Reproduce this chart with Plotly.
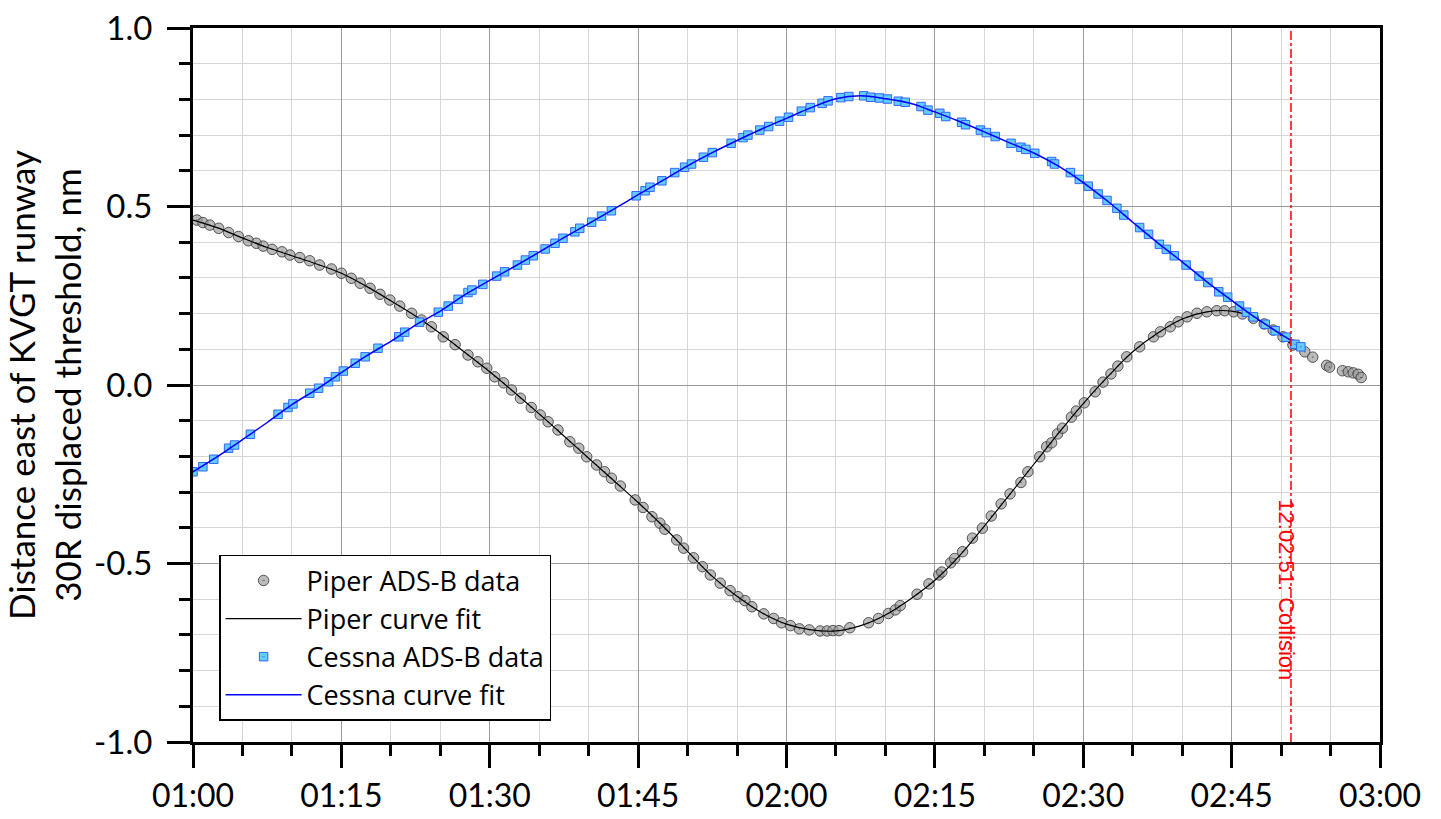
import plotly.graph_objects as go

# ---------------- data (seconds after 12:00, i.e. 60 = 01:00) ----------------
piper_t = [60.4, 61.0, 61.7, 62.6, 63.6, 64.6, 65.6, 66.4, 67.1, 68.0, 69.0, 69.8, 70.8, 71.8,
           72.8, 74.0, 75.0, 76.0, 76.9, 77.9, 78.9, 79.9, 80.9, 82.1, 83.1, 84.1, 85.3, 86.5,
           87.8, 88.8, 89.7, 90.5, 91.4, 92.2, 93.1, 94.2, 95.1, 95.9, 96.9, 98.1, 99.0, 99.8,
           100.8, 101.6, 102.3, 103.2, 104.7, 105.5, 106.4, 107.2, 107.7, 108.9, 109.6, 110.6,
           111.5, 112.3, 113.3, 114.3, 115.1, 115.8, 116.5, 117.7, 118.7, 119.5, 120.4, 121.3,
           122.3, 123.4, 124.1, 124.7, 125.3, 126.4, 128.3, 129.3, 130.3, 131.0, 131.5, 133.2,
           134.4, 135.4, 135.7, 136.6, 137.0, 137.8, 138.8, 139.8, 140.7, 141.7, 142.6, 143.7,
           144.4, 145.6, 146.3, 146.8, 147.4, 147.9, 148.8, 149.3, 150.1, 151.2, 152.0, 152.8,
           153.5, 154.4, 155.7, 157.1, 157.8, 158.8, 159.6, 160.5, 161.5, 162.5, 163.5, 164.3,
           165.2, 166.1, 167.2, 168.3, 169.2, 170.2, 171.2, 172.4, 173.2, 174.6, 174.9, 176.2,
           176.8, 177.3, 177.8, 178.1]
piper_y = [0.462, 0.455, 0.448, 0.439, 0.427, 0.416, 0.404, 0.397, 0.389, 0.380, 0.373, 0.364,
           0.357, 0.348, 0.336, 0.325, 0.313, 0.299, 0.285, 0.271, 0.254, 0.238, 0.221, 0.201,
           0.182, 0.163, 0.135, 0.113, 0.084, 0.065, 0.047, 0.023, 0.006, -0.014, -0.037, -0.063,
           -0.084, -0.103, -0.126, -0.159, -0.177, -0.201, -0.224, -0.243, -0.261, -0.283, -0.322,
           -0.343, -0.369, -0.387, -0.404, -0.434, -0.457, -0.484, -0.509, -0.532, -0.555, -0.576,
           -0.593, -0.604, -0.621, -0.641, -0.654, -0.666, -0.674, -0.683, -0.686, -0.689, -0.689,
           -0.688, -0.688, -0.680, -0.666, -0.654, -0.640, -0.630, -0.618, -0.586, -0.557, -0.532,
           -0.524, -0.498, -0.486, -0.467, -0.429, -0.401, -0.367, -0.333, -0.305, -0.273, -0.243,
           -0.201, -0.173, -0.162, -0.137, -0.121, -0.090, -0.073, -0.050, -0.019, 0.008, 0.031,
           0.053, 0.079, 0.107, 0.135, 0.149, 0.163, 0.177, 0.191, 0.201, 0.205, 0.208, 0.208,
           0.205, 0.199, 0.187, 0.171, 0.154, 0.135, 0.112, 0.093, 0.078, 0.055, 0.050, 0.040,
           0.037, 0.034, 0.030, 0.021]

piper_fit_t = [60, 62.5, 65, 67.5, 70, 72.5, 75, 77.5, 80, 82.5, 85, 87.5, 90, 92.5, 95, 97.5,
               100, 102.5, 105, 107.5, 110, 112.5, 115, 117.5, 120, 122.5, 125, 127.5, 130,
               132.5, 135, 137.5, 140, 142.5, 145, 147.5, 150, 152.5, 155, 157.5, 160, 162.5,
               165, 167.5, 170, 171]
piper_fit_y = [0.462, 0.440, 0.412, 0.385, 0.362, 0.339, 0.313, 0.277, 0.236, 0.193, 0.144,
               0.091, 0.037, -0.021, -0.081, -0.143, -0.205, -0.267, -0.329, -0.395, -0.466,
               -0.536, -0.592, -0.638, -0.670, -0.686, -0.689, -0.674, -0.644, -0.600, -0.547,
               -0.478, -0.395, -0.309, -0.222, -0.135, -0.052, 0.024, 0.093, 0.145, 0.185,
               0.205, 0.207, 0.185, 0.139, 0.115]

cessna_t = [60.0, 61.0, 62.1, 63.6, 64.2, 65.8, 68.6, 69.6, 70.1, 71.8, 72.7, 73.7, 74.4, 75.2,
            76.4, 77.4, 78.7, 80.8, 81.4, 82.9, 84.8, 85.8, 86.8, 87.8, 88.2, 89.3, 90.7, 91.5,
            92.8, 93.6, 94.4, 95.6, 96.6, 97.4, 98.6, 99.1, 100.3, 101.3, 102.3, 104.8, 105.7,
            106.2, 107.4, 108.7, 109.7, 110.4, 111.6, 112.5, 114.4, 115.6, 116.1, 117.3, 118.2,
            119.3, 120.2, 121.5, 122.4, 123.6, 124.2, 125.5, 126.3, 127.8, 128.5, 129.4, 130.2,
            131.3, 132.0, 133.6, 134.3, 135.5, 136.1, 137.7, 138.1, 139.6, 140.2, 141.1, 142.7,
            143.7, 144.2, 145.1, 146.8, 147.1, 148.7, 149.6, 150.5, 151.5, 152.4, 153.4, 154.1,
            155.7, 156.6, 157.7, 158.4, 159.2, 160.4, 161.7, 162.6, 163.7, 164.6, 165.8, 166.5,
            167.2, 168.4, 169.4, 170.5, 171.4, 172.0]
cessna_y = [-0.243, -0.229, -0.208, -0.177, -0.168, -0.138, -0.082, -0.063, -0.053, -0.023,
            -0.009, 0.009, 0.023, 0.039, 0.061, 0.079, 0.103, 0.135, 0.148, 0.176, 0.204, 0.221,
            0.240, 0.259, 0.266, 0.282, 0.305, 0.317, 0.336, 0.350, 0.362, 0.381, 0.397, 0.411,
            0.429, 0.439, 0.456, 0.473, 0.488, 0.530, 0.544, 0.554, 0.572, 0.595, 0.610, 0.619,
            0.638, 0.651, 0.677, 0.693, 0.700, 0.714, 0.724, 0.739, 0.750, 0.767, 0.777, 0.789,
            0.796, 0.805, 0.808, 0.810, 0.806, 0.804, 0.801, 0.795, 0.792, 0.780, 0.770, 0.761,
            0.752, 0.736, 0.729, 0.714, 0.707, 0.696, 0.677, 0.666, 0.660, 0.649, 0.626, 0.619,
            0.595, 0.576, 0.557, 0.535, 0.517, 0.495, 0.476, 0.441, 0.422, 0.394, 0.380, 0.362,
            0.336, 0.305, 0.287, 0.261, 0.246, 0.221, 0.204, 0.191, 0.170, 0.152, 0.134, 0.114,
            0.107]

cessna_fit_t = [60, 62.5, 65, 67.5, 70, 72.5, 75, 77.5, 80, 82.5, 85, 87.5, 90, 92.5, 95, 97.5,
                100, 102.5, 105, 107.5, 110, 112.5, 115, 117.5, 120, 122.5, 125, 127.5, 130,
                132.5, 135, 137.5, 140, 142.5, 145, 147.5, 150, 152.5, 155, 157.5, 160, 162.5,
                165, 167.5, 170, 171]
cessna_fit_y = [-0.243, -0.200, -0.153, -0.105, -0.055, -0.012, 0.035, 0.081, 0.122, 0.168,
                0.207, 0.253, 0.293, 0.332, 0.372, 0.413, 0.452, 0.492, 0.533, 0.573, 0.614,
                0.651, 0.685, 0.717, 0.747, 0.777, 0.802, 0.810, 0.802, 0.789, 0.765, 0.738,
                0.709, 0.679, 0.650, 0.613, 0.567, 0.514, 0.456, 0.399, 0.345, 0.289, 0.237,
                0.187, 0.142, 0.125]

collision_t = 171
collision_label = "12:02:51: Collision"

x_tick_vals = [60, 75, 90, 105, 120, 135, 150, 165, 180]
x_tick_text = ["01:00", "01:15", "01:30", "01:45", "02:00", "02:15", "02:30", "02:45", "03:00"]
y_tick_vals = [-1.0, -0.5, 0.0, 0.5, 1.0]
y_tick_text = ["-1.0", "-0.5", "0.0", "0.5", "1.0"]

FONT = "Lato"

fig = go.Figure()
fig.add_trace(go.Scatter(
    x=piper_t, y=piper_y, mode="markers", name="Piper ADS-B data",
    marker=dict(symbol="circle-dot", size=10.5, color="rgba(150,150,150,0.65)",
                line=dict(color="rgba(60,60,60,0.85)", width=1))))
fig.add_trace(go.Scatter(
    x=piper_fit_t, y=piper_fit_y, mode="lines", name="Piper curve fit",
    line=dict(color="black", width=1.2, shape="spline")))
fig.add_trace(go.Scatter(
    x=cessna_t, y=cessna_y, mode="markers", name="Cessna ADS-B data",
    marker=dict(symbol="square-dot", size=8.5, color="rgba(100,205,255,1)",
                line=dict(color="rgba(40,90,255,0.9)", width=1))))
fig.add_trace(go.Scatter(
    x=cessna_fit_t, y=cessna_fit_y, mode="lines", name="Cessna curve fit",
    line=dict(color="#0000ff", width=1.5, shape="spline")))

fig.add_vline(x=collision_t, line=dict(color="red", width=1.5, dash="dashdot"))
fig.add_annotation(x=collision_t, y=-0.575, text=collision_label, textangle=90,
                   showarrow=False, xshift=-4,
                   font=dict(family="Liberation Sans, Arial", size=22, color="red"))

fig.update_xaxes(
    range=[60, 180], tickmode="array", tickvals=x_tick_vals, ticktext=x_tick_text,
    ticks="outside", ticklen=23, tickwidth=2.5, tickcolor="black", ticklabelstandoff=1,
    showline=True, linecolor="black", linewidth=3, mirror=True, automargin=False,
    showgrid=True, gridcolor="#9a9a9a", gridwidth=1, zeroline=False,
    tickfont=dict(family=FONT, size=32, color="black"),
    minor=dict(tickmode="linear", tick0=60, dtick=5, ticks="outside", ticklen=11,
               tickwidth=2.5, tickcolor="black", showgrid=True, gridcolor="#d6d6d6",
               gridwidth=1))
fig.update_yaxes(
    range=[-1, 1], tickmode="array", tickvals=y_tick_vals, ticktext=y_tick_text,
    ticks="outside", ticklen=23, tickwidth=2.5, tickcolor="black", ticklabelstandoff=8,
    showline=True, linecolor="black", linewidth=3, mirror=True, automargin=False,
    showgrid=True, gridcolor="#9a9a9a", gridwidth=1, zeroline=False,
    tickfont=dict(family=FONT, size=33, color="black"),
    title=dict(text="Distance east of KVGT runway<br>30R displaced threshold, nm",
               font=dict(family=FONT, size=35, color="black"), standoff=10),
    minor=dict(tickmode="linear", tick0=-1, dtick=0.1, ticks="outside", ticklen=11,
               tickwidth=2.5, tickcolor="black", showgrid=True, gridcolor="#d6d6d6",
               gridwidth=1))

fig.update_layout(
    width=1441, height=819,
    margin=dict(l=193, r=61, t=28, b=77),
    plot_bgcolor="white", paper_bgcolor="white",
    showlegend=True,
    legend=dict(x=0.022, y=0.262, xanchor="left", yanchor="top",
                bgcolor="white", bordercolor="black", borderwidth=1.5,
                font=dict(family="Open Sans", size=27, color="black"),
                itemwidth=76, tracegroupgap=0),
)

fig.write_html("out.html")
